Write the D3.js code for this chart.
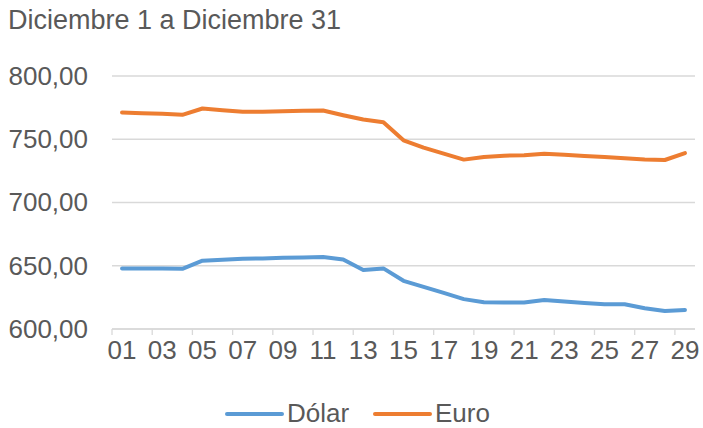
<!DOCTYPE html>
<html>
<head>
<meta charset="utf-8">
<script src="https://cdn.jsdelivr.net/npm/d3@7"></script>
<style>
  body { margin: 0; background: #fff; }
  text { font-family: "Liberation Sans", Arial, sans-serif; fill: #595959; }
</style>
</head>
<body>
<div id="chart"></div>
<script>
// data
var dias = ["01","02","03","04","05","06","07","08","09","10","11","12","13","14","15",
            "16","17","18","19","20","21","22","23","24","25","26","27","28","29"];
var dolar = [647.9,647.9,647.9,647.6,654.0,654.8,655.6,655.8,656.3,656.6,656.9,655.0,646.6,647.9,638.1,
             633.3,628.6,623.6,621.2,620.9,620.9,623.0,621.7,620.6,619.6,619.6,616.4,614.3,615.1];
var euro = [771.2,770.6,770.1,769.3,774.3,773.0,771.7,771.7,772.2,772.5,772.7,769.0,765.6,763.5,749.2,
            743.4,738.6,733.9,736.0,737.0,737.3,738.6,737.8,736.8,736.0,734.9,733.9,733.6,739.1];
var yTicks = [600, 650, 700, 750, 800];
var series = [
  { name: "Dólar", values: dolar, color: "#5B9BD5" },
  { name: "Euro", values: euro, color: "#ED7D31" }
];

var svgWidth = 703;
var svgHeight = 428;
var margin = { top: 76, right: 8, bottom: 99, left: 112 };
var width = svgWidth - margin.left - margin.right;
var height = svgHeight - margin.top - margin.bottom;

var svg = d3.select("#chart")
  .append("svg")
  .attr("width", svgWidth)
  .attr("height", svgHeight);

var es = d3.formatLocale({ decimal: ",", thousands: ".", grouping: [3], currency: ["", "€"] });
var fmt = es.format(",.2f");

var chartGroup = svg.append("g")
  .attr("transform", `translate(${margin.left}, ${margin.top})`);

var xScale = d3.scaleBand().domain(dias).range([0, width]).padding(0);
var yScale = d3.scaleLinear().domain([600, 800]).range([height, 0]);

// gridlines
chartGroup.selectAll(".grid")
  .data(yTicks)
  .enter()
  .append("line")
  .attr("x1", 0)
  .attr("x2", width)
  .attr("y1", d => yScale(d))
  .attr("y2", d => yScale(d))
  .attr("stroke", "#d9d9d9")
  .attr("stroke-width", 1.3);

// y labels
var yaxis = d3.axisLeft(yScale).tickValues(yTicks).tickFormat(fmt).tickSize(0).tickPadding(24);
var yG = chartGroup.append("g").call(yaxis);
yG.select(".domain").remove();
yG.selectAll("text").style("font-size", "26px").style("fill", "#595959");

// x axis: labels on odd days, ticks on band edges every 2 categories
var labelDays = dias.filter((d, i) => i % 2 === 0);
var xaxis = d3.axisBottom(xScale).tickValues(labelDays).tickSize(0).tickPadding(12);
var xG = chartGroup.append("g")
  .attr("transform", `translate(0, ${height})`)
  .call(xaxis);
xG.select(".domain").remove();
xG.selectAll("text").style("font-size", "26px").style("fill", "#595959");

chartGroup.append("line")
  .attr("x1", 0).attr("x2", width)
  .attr("y1", height).attr("y2", height)
  .attr("stroke", "#d9d9d9")
  .attr("stroke-width", 1.3);

chartGroup.selectAll(".xtick")
  .data(labelDays)
  .enter()
  .append("line")
  .attr("x1", d => xScale(d))
  .attr("x2", d => xScale(d))
  .attr("y1", height)
  .attr("y2", height + 6)
  .attr("stroke", "#d9d9d9")
  .attr("stroke-width", 1.3);

// lines
var line = d3.line()
  .x((d, i) => xScale(dias[i]) + xScale.bandwidth() / 2)
  .y(d => yScale(d));

chartGroup.selectAll(".serie")
  .data(series)
  .enter()
  .append("path")
  .attr("d", d => line(d.values))
  .attr("fill", "none")
  .attr("stroke", d => d.color)
  .attr("stroke-width", 4)
  .attr("stroke-linejoin", "round")
  .attr("stroke-linecap", "round");

// title
svg.append("text")
  .attr("x", 8)
  .attr("y", 29)
  .style("font-size", "27px")
  .text("Diciembre 1 a Diciembre 31");

// legend
var legend = svg.append("g");
var legendPos = [227, 375];
series.forEach(function (s, i) {
  legend.append("line")
    .attr("x1", legendPos[i])
    .attr("x2", legendPos[i] + 55)
    .attr("y1", 414)
    .attr("y2", 414)
    .attr("stroke", s.color)
    .attr("stroke-width", 4)
    .attr("stroke-linecap", "round");
  legend.append("text")
    .attr("x", legendPos[i] + 60)
    .attr("y", 422)
    .style("font-size", "26px")
    .text(s.name);
});
</script>
</body>
</html>
